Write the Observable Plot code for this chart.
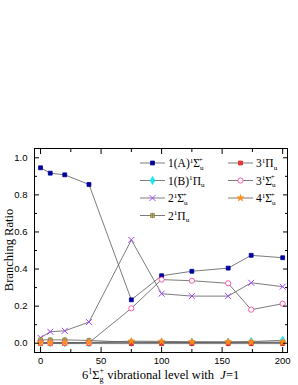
<!DOCTYPE html>
<html><head><meta charset="utf-8">
<script src="https://cdn.jsdelivr.net/npm/d3@7"></script>
<script src="https://cdn.jsdelivr.net/npm/@observablehq/plot@0.6"></script>
<style>body{margin:0;background:#fff}#c{position:relative;width:298px;height:385px}</style>
</head><body><div id="c"></div>
<script>
const levels = [0, 8, 20, 40, 75, 100, 125, 155, 174, 200];
const A1Su = [0.946, 0.917, 0.908, 0.856, 0.234, 0.364, 0.388, 0.405, 0.474, 0.461];
const B1Pu = [0.003, 0.003, 0.003, 0.003, 0.005, 0.005, 0.005, 0.006, 0.009, 0.016];
const S2u  = [0.029, 0.062, 0.067, 0.114, 0.557, 0.267, 0.254, 0.254, 0.326, 0.305];
const P2u  = [0.018, 0.018, 0.018, 0.015, 0.005, 0.004, 0.004, 0.004, 0.004, 0.004];
const P3u  = [-0.002, -0.002, -0.002, -0.002, -0.002, -0.002, -0.002, -0.002, -0.002, -0.002];
const S3u  = [0.002, 0.002, 0.002, 0.003, 0.188, 0.343, 0.337, 0.323, 0.181, 0.213];
const S4u  = [0.002, 0.002, 0.002, 0.004, 0.011, 0.010, 0.008, 0.007, 0.006, 0.006];
const xTicks = [0, 50, 100, 150, 200];
const yTicks = [0, 0.2, 0.4, 0.6, 0.8, 1.0];

const series = [
  {key:"A1Su", vals:A1Su, sym:"square", fill:"#00009c", stroke:"#00009c", r:2.2, label:["1(A)","1","Σ","u","+"]},
  {key:"B1Pu", vals:B1Pu, sym:"diamond", fill:"#22e4f4", stroke:"#22e4f4", r:2.5, label:["1(B)","1","Π","u",""]},
  {key:"S2u",  vals:S2u,  sym:"times", fill:"none", stroke:"#a040ff", r:2.8, label:["2","1","Σ","u","+"]},
  {key:"P2u",  vals:P2u,  sym:"square", fill:"#c8c070", stroke:"#8a8040", r:2.2, label:["2","1","Π","u",""], inner:"plus"},
  {key:"P3u",  vals:P3u,  sym:"square", fill:"#ff5050", stroke:"#d02020", r:2.2, label:["3","1","Π","u",""], inner:"times"},
  {key:"S3u",  vals:S3u,  sym:"circle", fill:"white", stroke:"#ff3399", r:2.6, label:["3","1","Σ","u","+"]},
  {key:"S4u",  vals:S4u,  sym:"star", fill:"#ff8c1a", stroke:"#ff8c1a", r:2.1, label:["4","1","Σ","u","+"]}
];
const rows = series.flatMap(s => s.vals.map((v,i) => ({key:s.key, x:levels[i], y:v})));

const marks = [];
series.forEach(s => {
  const d = rows.filter(r => r.key === s.key);
  marks.push(Plot.line(d, {x:"x", y:"y", stroke:"#5a5a5a", strokeWidth:0.8}));
});
series.forEach(s => {
  const d = rows.filter(r => r.key === s.key);
  marks.push(Plot.dot(d, {x:"x", y:"y", symbol:s.sym, r:s.r, fill:s.fill, stroke:s.stroke, strokeWidth: s.sym==="times"?1:0.8}));
  if (s.inner) marks.push(Plot.dot(d, {x:"x", y:"y", symbol:s.inner, r:1.9, stroke:s.stroke, strokeWidth:0.8}));
});

const fontSans = "'Liberation Sans', Arial, sans-serif";
const chart = Plot.plot({
  width: 298, height: 385,
  marginTop: 148, marginLeft: 34, marginRight: 11, marginBottom: 33,
  x: {domain: [-5, 204]},
  y: {domain: [-0.05, 1.05]},
  style: {fontFamily: fontSans, fontSize: "9.5px", background: "white", color: "black"},
  marks: [
    ...marks,
    Plot.axisX({ticks: [25,75,125,175], tickSize: -3, tickFormat: () => "", anchor: "bottom", label: null}),
    Plot.axisX({ticks: xTicks, tickSize: -5, tickPadding: 10, anchor: "bottom", label: null, tickFormat: d3.format("d")}),
    Plot.axisX({ticks: xTicks, tickSize: -5, tickFormat: () => "", anchor: "top", label: null}),
    Plot.axisX({ticks: [25,75,125,175], tickSize: -3, tickFormat: () => "", anchor: "top", label: null}),
    Plot.axisY({ticks: yTicks, tickSize: -5, tickPadding: 12, anchor: "left", label: null, tickFormat: d3.format(".1f")}),
    Plot.axisY({ticks: [0.1,0.3,0.5,0.7,0.9], tickSize: -3, tickFormat: () => "", anchor: "left", label: null}),
    Plot.axisY({ticks: yTicks, tickSize: -5, tickFormat: () => "", anchor: "right", label: null}),
    Plot.axisY({ticks: [0.1,0.3,0.5,0.7,0.9], tickSize: -3, tickFormat: () => "", anchor: "right", label: null}),
    Plot.frame({stroke: "black", strokeWidth: 1})
  ]
});
document.getElementById("c").appendChild(chart);

const svg = d3.select(chart);
const serif = "'Liberation Serif', 'Times New Roman', serif";

function richLabel(g, x, y, parts, size) {
  const [pre, sup, greek, sub, sup2] = parts;
  const t = g.append("text").attr("x", x).attr("y", y).attr("text-anchor", "start")
    .attr("font-family", serif).attr("font-size", size).attr("fill", "black");
  t.append("tspan").text(pre);
  t.append("tspan").attr("font-size", size*0.62).attr("dy", -size*0.38).text(sup);
  t.append("tspan").attr("dy", size*0.38).text(greek);
  t.append("tspan").attr("font-size", size*0.62).attr("dy", size*0.25).text(sub);
  if (sup2) t.append("tspan").attr("font-size", size*0.62).attr("dx", -size*0.42).attr("dy", -size*0.7).text(sup2);
  return t;
}

const symMap = {square: d3.symbolSquare, diamond: d3.symbolDiamond, times: d3.symbolTimes, circle: d3.symbolCircle, star: d3.symbolStar, plus: d3.symbolPlus};

// legend
const lg = svg.append("g");
const colX = [140, 228];
const rowY = [163, 180.5, 198, 215.5];
const layout = [[0,0],[0,1],[0,2],[0,3],[1,0],[1,1],[1,2]];
series.forEach((s, i) => {
  const [c, r] = layout[i];
  const x0 = colX[c], y0 = rowY[r];
  lg.append("line").attr("x1", x0).attr("x2", x0 + 25).attr("y1", y0).attr("y2", y0).attr("stroke", "#5a5a5a").attr("stroke-width", 0.8);
  lg.append("path").attr("d", d3.symbol(symMap[s.sym], Math.PI * s.r * s.r)()).attr("transform", `translate(${x0+12.5},${y0})`)
    .attr("fill", s.fill).attr("stroke", s.stroke).attr("stroke-width", s.sym==="times"?1:0.8);
  if (s.inner) {
    lg.append("path").attr("d", d3.symbol(symMap[s.inner], Math.PI*1.9*1.9)())
      .attr("transform", `translate(${x0+12.5},${y0})`).attr("fill","none").attr("stroke", s.stroke).attr("stroke-width",0.8);
  }
  richLabel(lg, x0 + 28, y0 + 4, s.label, 11.5);
});

// axis titles
svg.append("text").attr("transform", "translate(13,250) rotate(-90)").attr("text-anchor", "middle")
  .attr("font-family", serif).attr("font-size", 12.5).attr("fill", "black").text("Branching Ratio");
const xt = svg.append("text").attr("x", 82).attr("y", 379).attr("text-anchor", "start")
  .attr("font-family", serif).attr("font-size", 12.5).attr("fill", "black");
xt.append("tspan").text("6");
xt.append("tspan").attr("font-size", 8).attr("dy", -5).text("1");
xt.append("tspan").attr("dy", 5).text("Σ");
xt.append("tspan").attr("font-size", 8).attr("dy", 3).text("g");
xt.append("tspan").attr("font-size", 8).attr("dx", -4).attr("dy", -9).text("+");
xt.append("tspan").attr("dy", 6).text(" vibrational level with  ");
xt.append("tspan").attr("font-style", "italic").text("J");
xt.append("tspan").text("=1");
</script></body></html>
